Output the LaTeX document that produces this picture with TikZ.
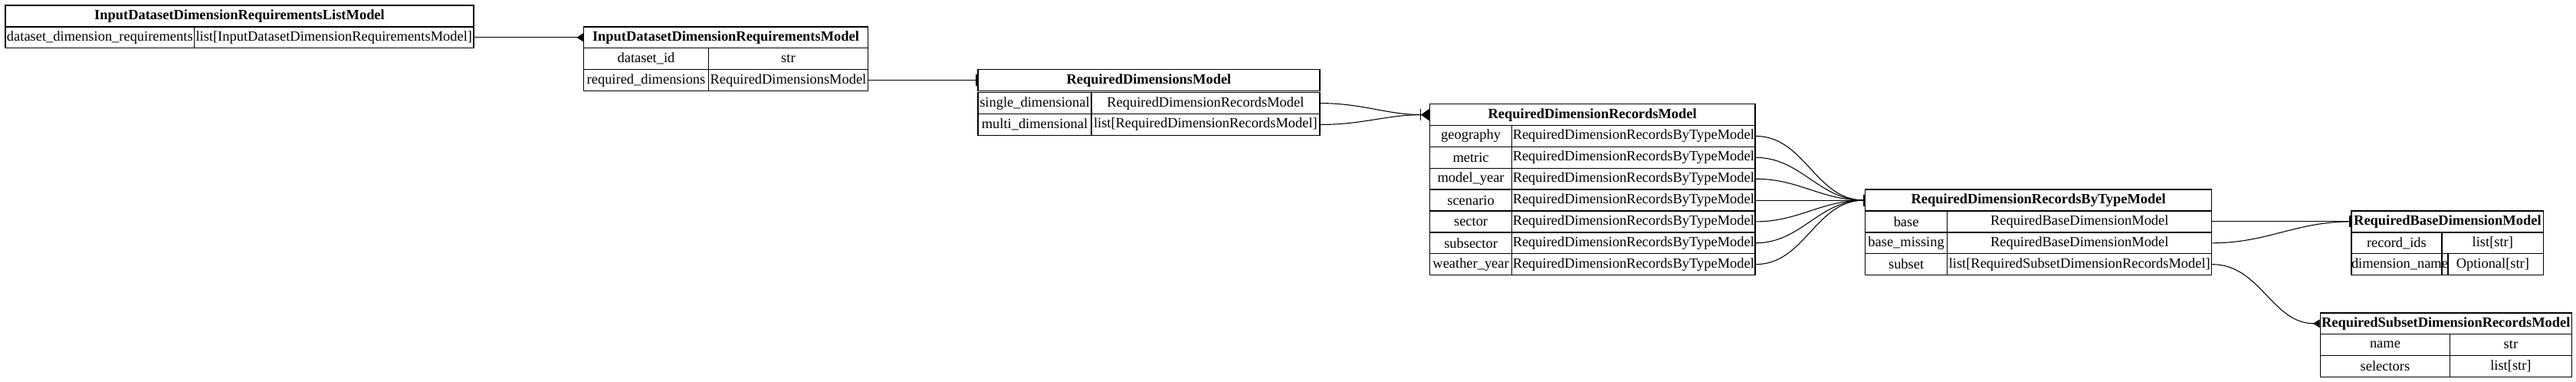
\documentclass[tikz,border=0pt]{standalone}
\usepackage{fontspec}
\setmainfont{Liberation Serif}
\usetikzlibrary{arrows.meta}

% one row of a table: name, x, y, width of key cell, width of type cell, key, type
\newcommand{\trow}[7]{%
  \node[cell, minimum width=#4pt, anchor=north west] (#1-k) at (#2,#3) {#6};
  \node[cell, minimum width=#5pt, anchor=north west] (#1-t) at (#2+#4,#3) {#7};}

\begin{document}
\begin{tikzpicture}[x=1pt, y=-1pt, thick,
    cell/.style = {draw, line width=0.6pt, minimum height=13pt, inner sep=0pt, font=\fontsize{8.6}{10}\selectfont},
    hdr/.style = {cell, font=\fontsize{8.6}{10}\selectfont\bfseries},
    rel/.style = {line width=0.5pt},
    many/.style = {-{Triangle[reversed, width=5pt, length=4pt]}},
    one/.style = {-{Bar[width=7pt] Bar[width=7pt]}},
    onemany/.style = {-{Bar[width=7pt] Triangle[reversed, width=7pt, length=5pt]}}]
    \useasboundingbox (0,0) rectangle (1568,232);

    % Tables
    \node[hdr, minimum width=285pt, anchor=north west] (list) at (3,3) {InputDatasetDimensionRequirementsListModel};
    \trow{list1}{3}{16}{115}{170}{dataset\_dimension\_requirements}{list[InputDatasetDimensionRequirementsModel]}

    \node[hdr, minimum width=173pt, anchor=north west] (input) at (355,16) {InputDatasetDimensionRequirementsModel};
    \trow{input1}{355}{29}{76}{97}{dataset\_id}{str}
    \trow{input2}{355}{42}{76}{97}{required\_dimensions}{RequiredDimensionsModel}

    \node[hdr, minimum width=208pt, anchor=north west] (dims) at (595,42) {RequiredDimensionsModel};
    \trow{dims1}{595}{56}{69}{139}{single\_dimensional}{RequiredDimensionRecordsModel}
    \trow{dims2}{595}{69}{69}{139}{multi\_dimensional}{list[RequiredDimensionRecordsModel]}

    \node[hdr, minimum width=198pt, anchor=north west] (recs) at (870,63) {RequiredDimensionRecordsModel};
    \foreach \k [count=\i] in {geography, metric, model\_year, scenario, sector, subsector, weather\_year}
        {\trow{recs\i}{870}{63+13*\i}{50}{148}{\k}{RequiredDimensionRecordsByTypeModel}}

    \node[hdr, minimum width=211pt, anchor=north west] (bytype) at (1135,115) {RequiredDimensionRecordsByTypeModel};
    \trow{bytype1}{1135}{128}{50}{161}{base}{RequiredBaseDimensionModel}
    \trow{bytype2}{1135}{141}{50}{161}{base\_missing}{RequiredBaseDimensionModel}
    \trow{bytype3}{1135}{154}{50}{161}{subset}{list[RequiredSubsetDimensionRecordsModel]}

    \node[hdr, minimum width=117pt, anchor=north west] (base) at (1431,128) {RequiredBaseDimensionModel};
    \trow{base1}{1431}{141}{55}{62}{record\_ids}{list[str]}
    \trow{base2}{1431}{154}{55}{62}{dimension\_name}{Optional[str]}

    \node[hdr, minimum width=153pt, anchor=north west] (subset) at (1412,190) {RequiredSubsetDimensionRecordsModel};
    \trow{subset1}{1412}{203}{79}{74}{name}{str}
    \trow{subset2}{1412}{216}{79}{74}{selectors}{list[str]}

    % Relations
    \draw[rel, many] (list1-t.east) -- (input.west);
    \draw[rel, one] (input2-t.east) -- (dims.west);
    \foreach \i in {1,2}
        \draw[rel, onemany] (dims\i-t.east) to[out=0, in=180] (recs.west);
    \foreach \i in {1,...,7}
        \draw[rel, one] (recs\i-t.east) to[out=0, in=180] (bytype.west);
    \foreach \i in {1,2}
        \draw[rel, one] (bytype\i-t.east) to[out=0, in=180] (base.west);
    \draw[rel, many] (bytype3-t.east) to[out=0, in=180] (subset.west);
\end{tikzpicture}
\end{document}
